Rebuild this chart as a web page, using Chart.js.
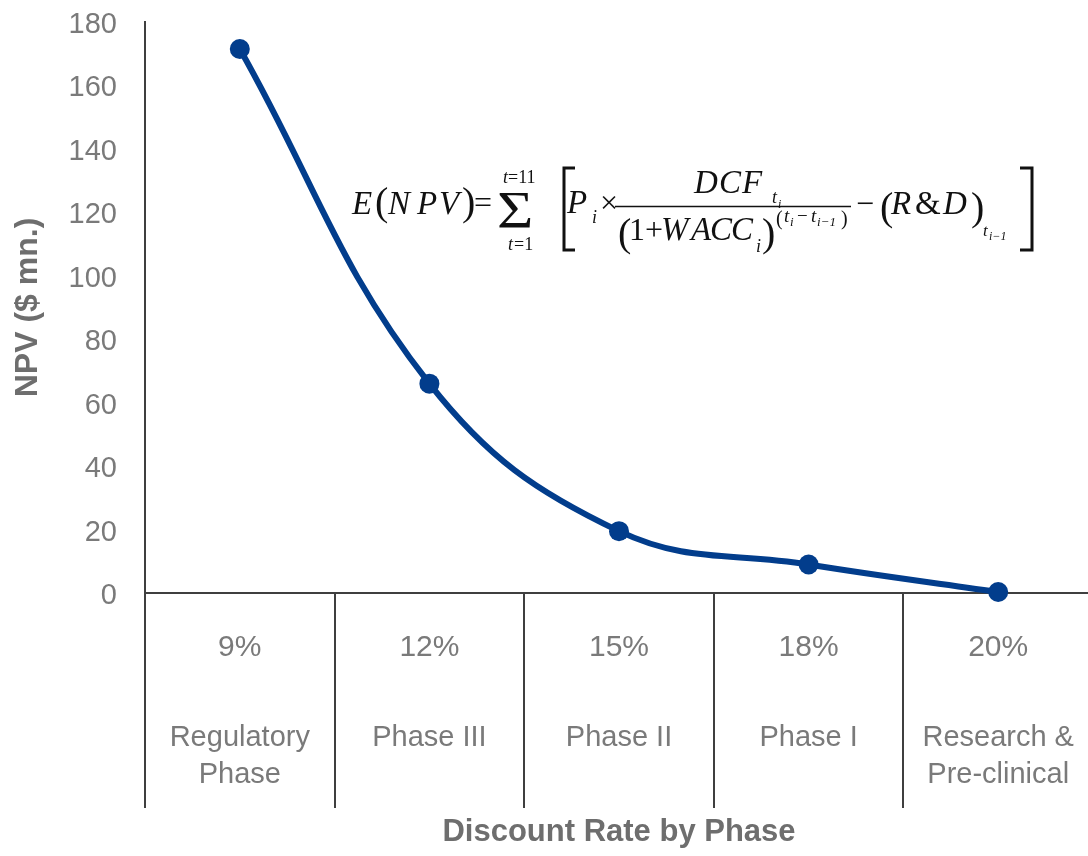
<!DOCTYPE html>
<html>
<head>
<meta charset="utf-8">
<script src="https://cdn.jsdelivr.net/npm/chart.js@4.4.1/dist/chart.umd.min.js"></script>
<style>
  html, body { margin: 0; padding: 0; background: #fff; overflow: hidden; }
  #npvChart { display: block; }
</style>
</head>
<body>
<canvas id="npvChart" width="1094" height="856"></canvas>
<script>
// Discount rate applied at each development phase
const rateLabels = ['9%', '12%', '15%', '18%', '20%'];
// Development phase names (one entry per category, split into lines)
const phaseLabels = [
  ['Regulatory', 'Phase'],
  ['Phase III'],
  ['Phase II'],
  ['Phase I'],
  ['Research &', 'Pre-clinical']
];
// Expected NPV ($ mn.) at each phase
const npvValues = [171.5, 66, 19.5, 9, 0.3];
// Y axis range
const yMin = 0;
const yMax = 180;
const yStep = 20;

const AXIS_COLOR = '#3f3f3f';
const TICK_COLOR = '#7a7a7a';
const TITLE_COLOR = '#6e6e6e';
const LINE_COLOR = '#023d8c';
const SANS = '"Liberation Sans", Arial, sans-serif';
const SERIF = '"Liberation Serif", "Times New Roman", serif';

Chart.defaults.font.family = SANS;

// Two-tier category labels under the x axis: rate on top, phase name below
const categoryLabelPlugin = {
  id: 'categoryLabels',
  afterDraw(chart) {
    const ctx = chart.ctx;
    const xs = chart.scales.x;
    ctx.save();
    ctx.fillStyle = TICK_COLOR;
    ctx.textAlign = 'center';
    ctx.textBaseline = 'alphabetic';
    rateLabels.forEach((r, i) => {
      const x = xs.getPixelForValue(i);
      ctx.font = '30px ' + SANS;
      ctx.fillText(r, x, 656);
      ctx.font = '29px ' + SANS;
      phaseLabels[i].forEach((line, j) => {
        ctx.fillText(line, x, 746 + j * 37);
      });
    });
    ctx.restore();
  }
};

// Expected-NPV formula set in the upper part of the plot
const formulaPlugin = {
  id: 'npvFormula',
  afterDraw(chart) {
    const ctx = chart.ctx;
    ctx.save();
    ctx.fillStyle = '#111';
    ctx.strokeStyle = '#111';
    ctx.textBaseline = 'alphabetic';
    ctx.textAlign = 'left';
    const put = (s, x, y, size, italic) => {
      ctx.font = (italic ? 'italic ' : '') + size + 'px ' + SERIF;
      ctx.fillText(s, x, y);
    };
    const pieces = [
      ['E', 352, 214, 33, 1], ['(', 375, 215, 40, 0],
      ['N', 388, 214, 33, 1], ['P', 417, 214, 33, 1], ['V', 439, 214, 33, 1],
      [')', 462, 215, 40, 0], ['=', 474, 213, 32, 0],
      ['t', 503, 183, 18, 1], ['=11', 508, 183, 18, 0],
      ['t', 508, 250, 18, 1], ['=1', 514, 250, 18, 0],
      ['P', 567, 213, 33, 1], ['i', 592, 223, 18, 1], ['\u00D7', 600, 213, 32, 0],
      ['D', 694, 193, 33, 1], ['C', 719, 193, 33, 1], ['F', 742, 193, 33, 1],
      ['t', 772, 203, 18, 1], ['i', 778, 208, 12, 1],
      ['(', 618, 246, 40, 0], ['1', 629, 240, 32, 0], ['+', 645, 240, 32, 0],
      ['W', 661, 240, 33, 1], ['A', 691, 240, 33, 1], ['C', 710, 240, 33, 1], ['C', 731, 240, 33, 1],
      ['i', 756, 252, 18, 1], [')', 762, 246, 40, 0],
      ['(', 776, 225, 20, 0], ['t', 784, 222, 19, 1], ['i', 790, 226, 13, 1],
      ['\u2212', 797, 222, 19, 0], ['t', 811, 222, 19, 1], ['i\u22121', 817, 226, 13, 1],
      [')', 841, 225, 20, 0],
      ['\u2212', 856, 214, 32, 0],
      ['(', 880, 220, 40, 0], ['R', 891, 214, 33, 1], ['&', 915, 214, 33, 0],
      ['D', 943, 214, 33, 1], [')', 971, 220, 40, 0],
      ['t', 983, 236, 17, 1], ['i\u22121', 989, 240, 12, 1]
    ];
    pieces.forEach(p => put(p[0], p[1], p[2], p[3], p[4]));
    // summation sign
    ctx.save();
    ctx.translate(497, 228);
    ctx.scale(1.2, 1);
    ctx.font = '52px ' + SERIF;
    ctx.fillText('\u03A3', 0, 0);
    ctx.restore();
    // fraction bar
    ctx.lineWidth = 1.6;
    ctx.beginPath();
    ctx.moveTo(615, 206.5);
    ctx.lineTo(851, 206.5);
    ctx.stroke();
    // square brackets
    ctx.lineWidth = 3;
    ctx.beginPath();
    ctx.moveTo(575, 168); ctx.lineTo(564, 168); ctx.lineTo(564, 250); ctx.lineTo(575, 250);
    ctx.moveTo(1020, 168); ctx.lineTo(1032, 168); ctx.lineTo(1032, 250); ctx.lineTo(1020, 250);
    ctx.stroke();
    ctx.restore();
  }
};

new Chart(document.getElementById('npvChart'), {
  type: 'line',
  data: {
    labels: rateLabels,
    datasets: [{
      data: npvValues,
      borderColor: LINE_COLOR,
      backgroundColor: LINE_COLOR,
      borderWidth: 6,
      tension: 0.4,
      pointRadius: 10,
      pointBorderWidth: 0,
      pointBackgroundColor: LINE_COLOR,
      clip: false
    }]
  },
  options: {
    responsive: false,
    devicePixelRatio: 1,
    animation: false,
    layout: {
      autoPadding: false,
      padding: { top: 22, right: 1, bottom: 0, left: 0 }
    },
    plugins: {
      legend: { display: false },
      tooltip: { enabled: false }
    },
    scales: {
      x: {
        type: 'category',
        offset: true,
        grid: {
          offset: true,
          drawOnChartArea: false,
          drawTicks: true,
          tickLength: 215,
          color: AXIS_COLOR,
          lineWidth: 2
        },
        border: { display: true, color: AXIS_COLOR, width: 2 },
        ticks: { display: false },
        title: {
          display: true,
          text: 'Discount Rate by Phase',
          color: TITLE_COLOR,
          font: { size: 31, weight: 'bold', family: SANS },
          padding: { top: 0, bottom: 5 }
        },
        afterFit(scale) {
          scale.height = 263;
          scale.paddingLeft = 0;
          scale.paddingRight = 0;
        }
      },
      y: {
        min: yMin,
        max: yMax,
        grid: { drawOnChartArea: false, drawTicks: false },
        border: { display: true, color: AXIS_COLOR, width: 2 },
        ticks: {
          stepSize: yStep,
          color: TICK_COLOR,
          padding: 28,
          labelOffset: 3,
          font: { size: 29, family: SANS }
        },
        title: {
          display: true,
          text: 'NPV ($ mn.)',
          color: TITLE_COLOR,
          font: { size: 32, weight: 'bold', family: SANS },
          padding: { top: 9, bottom: 0 }
        },
        afterFit(scale) {
          scale.width = 145;
          scale.paddingTop = 0;
          scale.paddingBottom = 0;
        }
      }
    }
  },
  plugins: [categoryLabelPlugin, formulaPlugin]
});
</script>
</body>
</html>
